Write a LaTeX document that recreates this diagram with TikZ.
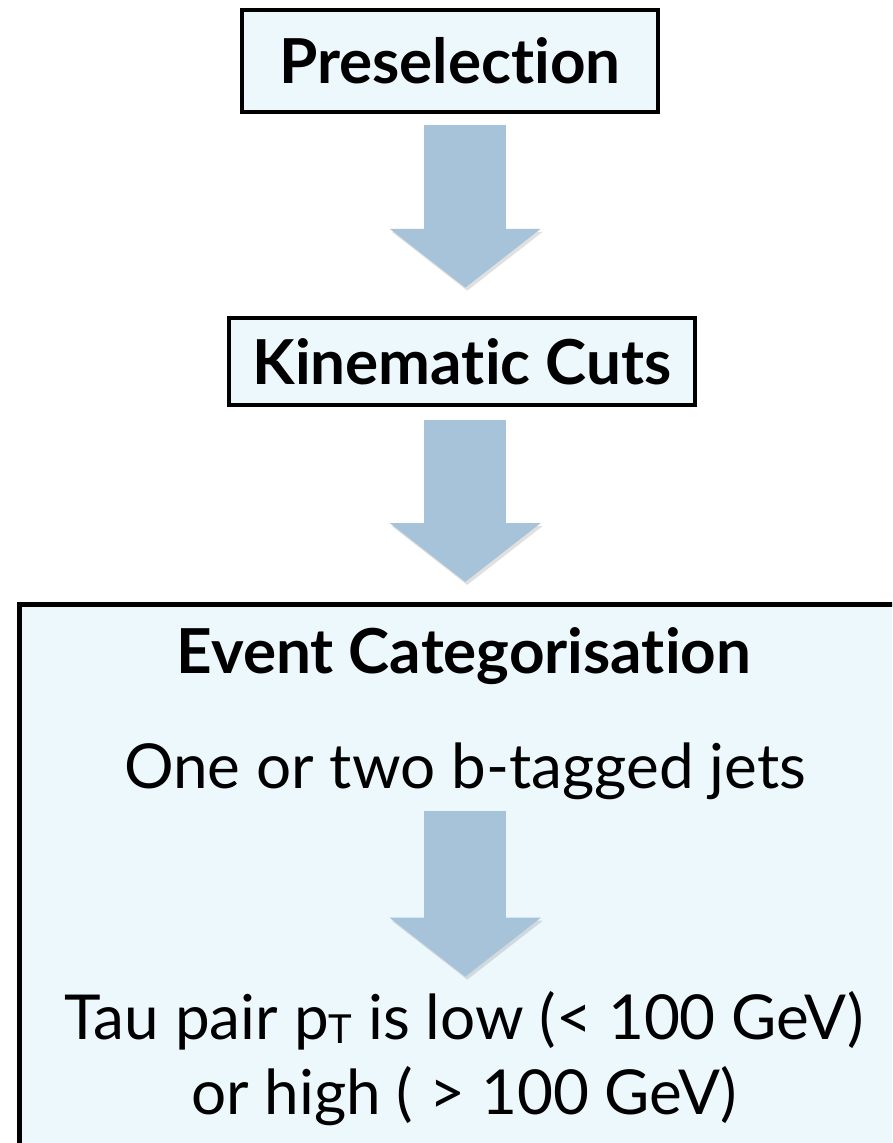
\documentclass[tikz,border=0pt]{standalone}
\usepackage{fontspec}
\setmainfont{Lato}[Ligatures=NoCommon]
\usetikzlibrary{positioning,arrows.meta}

\definecolor{boxfill}{HTML}{EDF8FD}
\definecolor{arrowblue}{HTML}{A6C3D9}

\tikzset{
  stepbox/.style={draw=black, line width=4.5pt, fill=boxfill, inner sep=0pt},
  headtext/.style={font=\fontsize{62}{70}\selectfont\bfseries, inner sep=0pt},
  bodytext/.style={font=\fontsize{62}{75}\selectfont, inner sep=0pt},
  flowarrow/.style={draw=arrowblue, line width=82pt,
    -{Triangle[width=148pt,length=59pt]},
    preaction={draw=black, opacity=0.12,
      transform canvas={shift={(2pt,-3pt)}}}}
}

\begin{document}
\begin{tikzpicture}[x=1pt,y=-1pt]
\useasboundingbox (0,0) rectangle (892,1143);
\clip (0,0) rectangle (892,1143);

%Boxes
\node[stepbox, headtext, minimum width=416pt, minimum height=102pt]
    (pre) at (450,61) {Preselection};
\node[stepbox, headtext, minimum width=466pt, minimum height=87pt]
    (kin) at (462,361.5) {Kinematic Cuts};
\node[stepbox, anchor=north west, minimum width=892pt, minimum height=600pt]
    (cat) at (17,602) {};

%Texts in the last box
\node[headtext, anchor=base]    (title) at (464,673) {Event Categorisation};
\node[bodytext, anchor=base]    (btag)  at (465,788) {One or two b-tagged jets};
\node[bodytext, anchor=base, align=center] (ptcat) at (464,1114)
    {Tau pair p\raisebox{-4pt}{\fontsize{40}{40}\selectfont T} is low (< 100 GeV)\\or high ( > 100 GeV)};

%Arrows
\draw[flowarrow] ([yshift=-11pt]pre.south -| cat.north)
    -- ([yshift=28pt]kin.north -| cat.north);
\draw[flowarrow] ([yshift=-13pt]kin.south -| cat.north)
    -- ([yshift=20pt]cat.north);
\draw[flowarrow] ([yshift=-11pt]btag.south -| cat.north)
    -- ([yshift=14pt]ptcat.north -| cat.north);
\end{tikzpicture}
\end{document}
